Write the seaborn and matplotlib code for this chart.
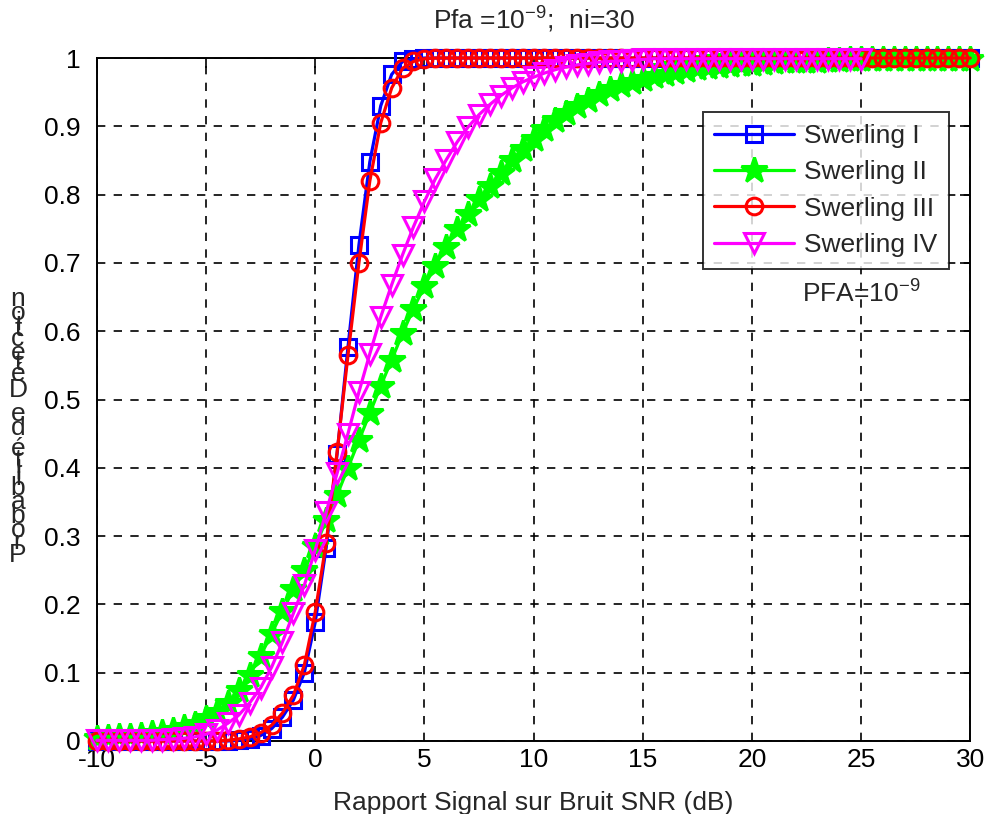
import numpy as np
import pandas as pd
import matplotlib
matplotlib.use("Agg")
import matplotlib.pyplot as plt
import seaborn as sns
from matplotlib.font_manager import FontProperties

# SNR axis (dB), sampled every 0.5 dB
snr = np.arange(-10, 30.5, 0.5)

# Detection probability for the four Swerling target models
pd_sw1 = [0, 0, 0, 0, 0, 0, 0, 0, 0, 0, 0, 0, 0,
          0.001, 0.003, 0.008, 0.018, 0.035, 0.06, 0.10, 0.174, 0.283, 0.42,
          0.577, 0.726, 0.848, 0.93, 0.976, 0.995, 0.999] + [1.0] * 51

pd_sw2 = [0.005, 0.006, 0.007, 0.008, 0.009, 0.011, 0.013, 0.016,
          0.02, 0.025, 0.033, 0.043, 0.056, 0.075, 0.097, 0.125, 0.157, 0.19,
          0.222, 0.25, 0.285, 0.323, 0.36, 0.40, 0.44, 0.48, 0.52, 0.558,
          0.597, 0.633, 0.666, 0.696, 0.724, 0.749, 0.772, 0.793, 0.813, 0.832,
          0.85, 0.867, 0.882, 0.896, 0.909, 0.92, 0.93, 0.939, 0.947, 0.954,
          0.96, 0.965, 0.97, 0.974, 0.977, 0.98, 0.983, 0.985, 0.987, 0.989,
          0.99, 0.991, 0.992, 0.993, 0.994, 0.995, 0.995, 0.996, 0.996, 0.997,
          0.997, 0.998, 0.998,
          0.998, 0.998, 0.999, 0.999, 0.999, 0.999, 0.999, 0.999, 0.999, 0.999]

pd_sw3 = [0, 0, 0, 0, 0, 0, 0, 0, 0, 0, 0, 0,
          0.001, 0.003, 0.006, 0.012, 0.023, 0.041, 0.067, 0.111, 0.189, 0.29,
          0.423, 0.565, 0.70, 0.82, 0.905, 0.956, 0.985, 0.995, 0.999] + [1.0] * 50

pd_sw4 = [0.001, 0.001, 0.001, 0.001, 0.001, 0.001, 0.002, 0.003, 0.004, 0.006,
          0.01, 0.016, 0.026, 0.038, 0.056, 0.078, 0.108, 0.145, 0.187, 0.228,
          0.28, 0.335, 0.392, 0.45, 0.511, 0.567, 0.621, 0.668, 0.712, 0.753,
          0.79, 0.823, 0.851, 0.877, 0.899, 0.917, 0.932, 0.945, 0.956, 0.965,
          0.972, 0.978, 0.983, 0.987, 0.99, 0.992, 0.994, 0.995, 0.996, 0.997,
          0.998] + [0.999] * 20

labels = ["Swerling I", "Swerling II", "Swerling III", "Swerling IV"]
colors = ["#0000ff", "#00ff00", "#ff0000", "#ff00ff"]
markers = ["s", "*", "o", "v"]
msizes = [12, 19, 12, 14]
series = [pd_sw1, pd_sw2, pd_sw3, pd_sw4]

xticks = list(range(-10, 31, 5))
yticks = [round(0.1 * i, 1) for i in range(11)]
ytick_labels = ["0"] + [f"{v:g}" for v in yticks[1:-1]] + ["1"]

FS = 19

sns.set_theme(style="white")
plt.rcParams["font.family"] = ["Liberation Sans", "DejaVu Sans"]
plt.rcParams["mathtext.default"] = "regular"

fig = plt.figure(figsize=(9.89, 8.14), dpi=100)
ax = fig.add_axes([0.098, 0.0897, 0.883, 0.839])

for ys, lab, col, mk, ms in zip(series, labels, colors, markers, msizes):
    xs = snr[:len(ys)]
    df = pd.DataFrame({"snr": xs, "pd": ys})
    sns.lineplot(data=df, x="snr", y="pd", ax=ax, color=col, linewidth=2.3,
                 marker=mk, markersize=ms, markerfacecolor="none",
                 markeredgecolor=col, markeredgewidth=2.2, label=lab,
                 clip_on=False, zorder=3, estimator=None, sort=False)

# Filled star markers
for line in ax.get_lines():
    if line.get_marker() == "*":
        line.set_markerfacecolor("#00ff00")

ax.set_xlim(-10, 30)
ax.set_ylim(0, 1)
ax.set_xticks(xticks)
ax.set_xticklabels([str(t) for t in xticks])
ax.set_yticks(yticks)
ax.set_yticklabels(ytick_labels)
ax.tick_params(direction="in", length=7, width=1.2, labelsize=FS,
               top=True, right=True, colors="black")
ax.tick_params(axis="y", pad=12)
ax.tick_params(axis="x", pad=5)

ax.grid(True, color="black", linestyle=(0, (5, 5)), linewidth=1.2)
for sp in ax.spines.values():
    sp.set_color("black")
    sp.set_linewidth(1.4)
    sp.set_visible(True)

ax.set_xlabel("Rapport Signal sur Bruit SNR (dB)", fontsize=FS, labelpad=14)
ax.set_ylabel("")
ax.set_title("Pfa =10$^{-9}$;  ni=30", fontsize=FS, pad=21)

ax.text(22.3, 0.655, "PFA=10$^{-9}$", fontsize=FS, ha="left", va="center")

leg = ax.legend(loc="upper right", bbox_to_anchor=(0.976, 0.921), fontsize=FS,
                frameon=True, fancybox=False, edgecolor="black",
                handlelength=3.0, borderpad=0.45, labelspacing=0.47,
                handletextpad=0.4, borderaxespad=0.0)
leg.get_frame().set_linewidth(1.4)
leg.get_frame().set_facecolor("white")

# Vertical axis label drawn as upright glyphs stacked along the axis
ylabel = "Probabilité de Détection"
fig.canvas.draw()
renderer = fig.canvas.get_renderer()
fp = FontProperties(family=["Liberation Sans", "DejaVu Sans"], size=FS)
H = 814.0
y0 = 563.0
for i, ch in enumerate(ylabel):
    if ch == " ":
        continue
    prefix = ylabel[:i]
    w = renderer.get_text_width_height_descent(prefix, fp, ismath=False)[0] if prefix else 0.0
    cw = renderer.get_text_width_height_descent(ch, fp, ismath=False)[0]
    yc = y0 - 0.97 * (w + cw / 2.0)
    fig.text(18 / 989.0, 1 - yc / H, ch, fontproperties=fp,
             ha="center", va="center", rotation=0)

fig.savefig("out.png", dpi=100, facecolor="white")
